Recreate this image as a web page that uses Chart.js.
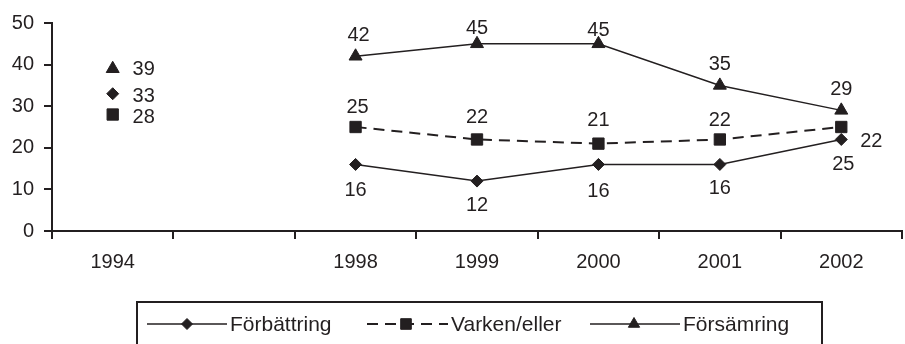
<!DOCTYPE html>
<html>
<head>
<meta charset="utf-8">
<script src="https://cdn.jsdelivr.net/npm/chart.js@4"></script>
<style>
  html, body { margin: 0; padding: 0; background: #fff; overflow: hidden; }
  #wrap { width: 911px; height: 344px; position: relative; }
</style>
</head>
<body>
<div id="wrap"><canvas id="c"></canvas></div>
<script>
const years = ["1994", "", "1998", "1999", "2000", "2001", "2002"]
const forbattring = [33, null, 16, 12, 16, 16, 22]
const varkenEller = [28, null, 25, 22, 21, 22, 25]
const forsamring = [39, null, 42, 45, 45, 35, 29]
const seriesNames = ["Förbättring", "Varken/eller", "Försämring"]

const ink = "#231f20"
const font = "'Liberation Sans', Arial, sans-serif"

// where each value label sits relative to its marker [dx, dy]
const labelPlace = [
  [[31, 3], null, [0, 26], [0, 24], [0, 27], [0, 24], [30, 2]],
  [[31, 3], null, [2, -20], [0, -22], [0, -23], [0, -19], [2, 37]],
  [[31, 1], null, [3, -21], [0, -15], [0, -13], [0, -21], [0, -21]],
]

const valueLabels = {
  id: "valueLabels",
  afterDatasetsDraw(chart) {
    const ctx = chart.ctx
    ctx.save()
    ctx.font = "20px " + font
    ctx.fillStyle = ink
    ctx.textAlign = "center"
    ctx.textBaseline = "middle"
    chart.data.datasets.forEach((ds, i) => {
      chart.getDatasetMeta(i).data.forEach((pt, j) => {
        const v = ds.data[j]
        if (v == null) return
        const [dx, dy] = labelPlace[i][j]
        ctx.fillText(String(v), pt.x + dx, pt.y + dy)
      })
    })
    ctx.restore()
  }
}

// boxed legend with line-marker-line samples, like the original
const boxLegend = {
  id: "boxLegend",
  afterDraw(chart) {
    const ctx = chart.ctx
    const y = 324
    const items = [
      { x0: 147, x1: 227, mx: 187, tx: 230, dash: [], width: 1.5, style: "rectRot", r: 5.5 },
      { x0: 367, x1: 448, mx: 406, tx: 451, dash: [11, 7], width: 2, style: "rect", r: 7.5 },
      { x0: 590, x1: 680, mx: 634, tx: 683, dash: [], width: 1.5, style: "triangle", r: 6.5 },
    ]
    ctx.save()
    ctx.strokeStyle = ink
    ctx.lineWidth = 2
    ctx.strokeRect(137, 302, 685, 46)
    ctx.font = "21px " + font
    ctx.textBaseline = "middle"
    ctx.textAlign = "left"
    items.forEach((it, i) => {
      ctx.save()
      ctx.strokeStyle = ink
      ctx.lineWidth = it.width
      ctx.setLineDash(it.dash)
      ctx.beginPath()
      ctx.moveTo(it.x0, y)
      ctx.lineTo(it.x1, y)
      ctx.stroke()
      ctx.restore()
      ctx.fillStyle = ink
      ctx.strokeStyle = ink
      ctx.lineWidth = 1
      Chart.helpers.drawPoint(ctx, { pointStyle: it.style, radius: it.r, rotation: 0, borderWidth: 1 }, it.mx, y)
      ctx.fillStyle = ink
      ctx.fillText(seriesNames[i], it.tx, y + 1)
    })
    ctx.restore()
  }
}

const lineDefaults = {
  borderColor: ink,
  pointBackgroundColor: ink,
  pointBorderColor: ink,
  pointBorderWidth: 1,
  spanGaps: false,
  tension: 0,
  fill: false,
}

new Chart(document.getElementById("c"), {
  type: "line",
  data: {
    labels: years,
    datasets: [
      { ...lineDefaults, label: seriesNames[0], data: forbattring, borderWidth: 1.5, pointStyle: "rectRot", pointRadius: 6 },
      { ...lineDefaults, label: seriesNames[1], data: varkenEller, borderWidth: 2, borderDash: [11, 7], pointStyle: "rect", pointRadius: 8 },
      { ...lineDefaults, label: seriesNames[2], data: forsamring, borderWidth: 1.5, pointStyle: "triangle", pointRadius: 7.5 },
    ]
  },
  options: {
    responsive: true,
    maintainAspectRatio: false,
    animation: false,
    events: [],
    layout: { padding: { top: 23, left: 0, right: 0, bottom: 0 } },
    plugins: {
      legend: { display: false },
      tooltip: { enabled: false },
    },
    scales: {
      x: {
        type: "category",
        offset: true,
        grid: { offset: true, drawOnChartArea: false, drawTicks: true, tickLength: 8, color: ink, lineWidth: 2 },
        border: { display: true, color: ink, width: 2 },
        ticks: { color: ink, font: { size: 20, family: font }, padding: 11, maxRotation: 0, autoSkip: false },
        afterFit: (s) => { s.height = 113 },
      },
      y: {
        min: 0,
        max: 50,
        grid: { drawOnChartArea: false, drawTicks: true, tickLength: 8, color: ink, lineWidth: 2 },
        border: { display: true, color: ink, width: 2 },
        ticks: { stepSize: 10, color: ink, font: { size: 20, family: font }, padding: 10 },
        afterFit: (s) => { s.width = 52 },
      }
    }
  },
  plugins: [valueLabels, boxLegend]
})
</script>
</body>
</html>
